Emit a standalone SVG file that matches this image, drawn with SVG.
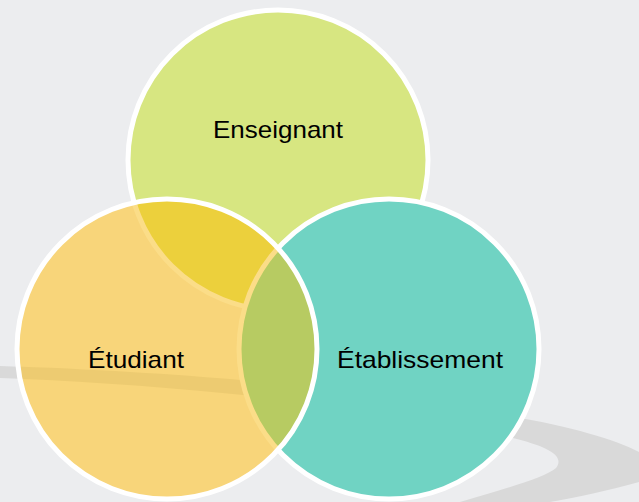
<svg xmlns="http://www.w3.org/2000/svg" width="639" height="502" viewBox="0 0 639 502">
<style>
.lbl{font-family:"Liberation Sans",Arial,sans-serif;font-size:24px;fill:#000;text-anchor:middle}
.ring{fill:none;stroke:#fff;stroke-width:5}
.pale{stroke:#fbdd88;stroke-width:5}
</style>
<defs>
<path id="swoosh" d="M0,366 C260,375 420,398 520,418 C580,428 625,444 639,452 L639,482 C610,490 575,498 550,502 L460,502 C500,490 545,478 556,468 C566,455 545,446 513,438 C400,410 200,385 0,378 Z"/>
<clipPath id="c2"><circle cx="167" cy="349" r="150"/></clipPath>
</defs>
<rect x="0" y="0" width="639" height="502" fill="#ecedef"/>
<use href="#swoosh" fill="#d9d9d9"/>
<g id="enseignant">
<circle cx="278" cy="160" r="150" fill="#d7e681" stroke="#fff" stroke-width="5"/>
<text class="lbl" x="278" y="138" textLength="130" lengthAdjust="spacingAndGlyphs">Enseignant</text>
</g>
<g id="etablissement">
<circle cx="389" cy="349" r="150" fill="#70d3c3" stroke="#fff" stroke-width="5"/>
</g>
<g id="etudiant">
<circle cx="167" cy="349" r="150" fill="#f8d57a"/>
<g clip-path="url(#c2)">
<use href="#swoosh" fill="#edcb71"/>
<circle cx="278" cy="160" r="150" fill="#ecd03c" class="pale"/>
<circle cx="389" cy="349" r="150" fill="#b7cb62" class="pale"/>
</g>
<circle cx="167" cy="349" r="150" class="ring"/>
<text class="lbl" x="136" y="368" textLength="96" lengthAdjust="spacingAndGlyphs">Étudiant</text>
</g>
<g id="etablissement-label">
<text class="lbl" x="420" y="368" textLength="166" lengthAdjust="spacingAndGlyphs">Établissement</text>
</g>
<g id="connectors"/>
</svg>
